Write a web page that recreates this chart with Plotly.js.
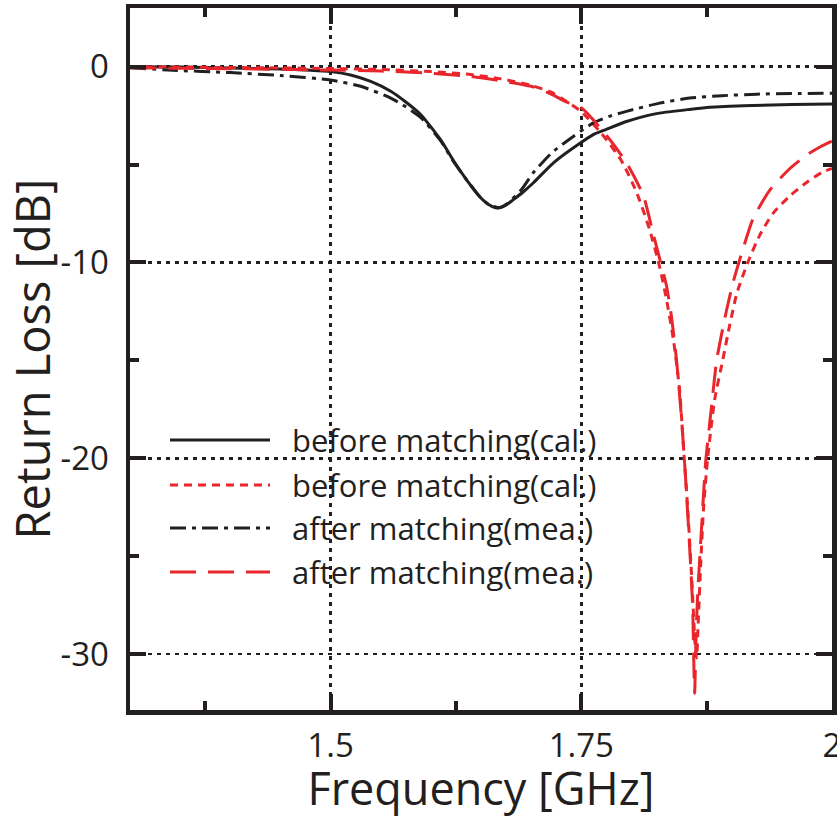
<!DOCTYPE html>
<html>
<head>
<meta charset="utf-8">
<script src="https://cdn.plot.ly/plotly-3.0.1.min.js"></script>
<style>html,body{margin:0;padding:0;background:#fff}#chart{width:837px;height:818px}</style>
</head>
<body>
<div id="chart"></div>
<script>
// ---- data (frequency in GHz, return loss in dB) ----
const freqCalBlack = [1.30,1.35,1.40,1.45,1.48,1.50,1.52,1.54,1.56,1.575,1.59,1.61,1.622,1.636,1.649,1.658,1.666,1.674,1.682,1.692,1.702,1.722,1.749,1.762,1.775,1.795,1.808,1.828,1.858,1.878,1.92,1.96,2.00];
const rlCalBlack   = [0.0,-0.02,-0.06,-0.12,-0.18,-0.25,-0.42,-0.75,-1.25,-1.8,-2.45,-3.75,-4.75,-5.8,-6.65,-7.05,-7.22,-7.1,-6.8,-6.4,-5.94,-4.92,-3.9,-3.47,-3.2,-2.8,-2.6,-2.37,-2.18,-2.07,-1.98,-1.93,-1.91];

const freqMeaBlack = [1.30,1.343,1.40,1.45,1.50,1.53,1.56,1.575,1.59,1.61,1.622,1.636,1.649,1.658,1.668,1.676,1.69,1.702,1.712,1.722,1.742,1.762,1.78,1.795,1.828,1.858,1.89,1.925,1.96,2.00];
const rlMeaBlack   = [-0.05,-0.18,-0.3,-0.45,-0.68,-1.0,-1.6,-2.05,-2.6,-3.8,-4.8,-5.8,-6.65,-7.05,-7.2,-7.0,-6.3,-5.42,-4.85,-4.33,-3.56,-2.87,-2.5,-2.28,-1.86,-1.6,-1.48,-1.4,-1.37,-1.35];

const freqCalRed = [1.30,1.35,1.40,1.45,1.50,1.55,1.60,1.64,1.67,1.70,1.72,1.73,1.75,1.77,1.79,1.805,1.818,1.828,1.835,1.842,1.848,1.852,1.856,1.860,1.8635,1.865,1.8665,1.869,1.872,1.876,1.883,1.891,1.898,1.905,1.916,1.928,1.941,1.958,1.975,1.99,2.00];
const rlCalRed   = [0.0,-0.02,-0.04,-0.06,-0.09,-0.14,-0.25,-0.4,-0.62,-0.95,-1.3,-1.6,-2.3,-3.4,-4.8,-6.4,-8.3,-10.2,-11.9,-14.0,-16.5,-19.5,-22.5,-26.0,-29.5,-30.2,-28.5,-25.5,-22.5,-20.0,-17.0,-15.0,-13.2,-11.6,-10.0,-8.6,-7.5,-6.6,-5.9,-5.4,-5.2];

const freqMeaRed = [1.30,1.35,1.40,1.45,1.50,1.55,1.60,1.64,1.67,1.70,1.72,1.735,1.75,1.775,1.795,1.812,1.822,1.835,1.84,1.845,1.850,1.854,1.858,1.861,1.863,1.8645,1.866,1.870,1.874,1.880,1.885,1.895,1.902,1.911,1.921,1.938,1.958,1.975,1.988,2.00];
const rlMeaRed   = [-0.05,-0.08,-0.1,-0.13,-0.17,-0.22,-0.33,-0.5,-0.72,-1.0,-1.4,-1.8,-2.1,-3.5,-4.9,-6.6,-8.6,-11.2,-12.8,-15.0,-18.0,-21.0,-24.5,-27.5,-32.0,-29.0,-27.0,-23.5,-20.2,-17.3,-15.0,-12.4,-10.9,-9.35,-7.8,-6.3,-5.2,-4.5,-4.1,-3.8];

const seriesNames = ['before matching(cal.)','before matching(cal.)','after matching(mea.)','after matching(mea.)'];
const xTickVals = [1.5, 1.75, 2];
const xTickText = ['1.5', '1.75', '2'];
const yTickVals = [0, -10, -20, -30];
const yTickText = ['0', '-10', '-20', '-30'];

// ---- styles ----
const BLACK = '#231f20', RED = '#e8262c';
const styles = [
  {color: BLACK, width: 3, dash: 'solid'},
  {color: RED, width: 3, dash: '8px,6px'},
  {color: BLACK, width: 3, dash: '16px,6px,4px,6px'},
  {color: RED, width: 3, dash: '26px,12px'}
];

const xs = [freqCalBlack, freqCalRed, freqMeaBlack, freqMeaRed];
const ys = [rlCalBlack, rlCalRed, rlMeaBlack, rlMeaRed];

const traces = xs.map((x, i) => ({
  x: x, y: ys[i], type: 'scatter', mode: 'lines', name: seriesNames[i],
  line: Object.assign({shape: 'spline', smoothing: 0.6}, styles[i]),
  showlegend: false, hoverinfo: 'skip'
}));

// plot area in pixels
const W = 837, H = 818, L = 130, R = 832, T = 8, B = 710;
const px2x = p => (p - L) / (R - L);
const px2y = p => (B - p) / (B - T);

// manual legend (long line samples)
const legendRows = [440, 485, 528, 572];
const shapes = [], annotations = [];
legendRows.forEach((py, i) => {
  shapes.push({type: 'line', xref: 'paper', yref: 'paper',
    x0: px2x(170), x1: px2x(270), y0: px2y(py), y1: px2y(py),
    line: {color: styles[i].color, width: 3, dash: styles[i].dash}});
  annotations.push({xref: 'paper', yref: 'paper', x: px2x(290), y: px2y(py),
    xanchor: 'left', yanchor: 'middle', showarrow: false, text: seriesNames[i],
    font: {family: 'Open Sans, sans-serif', size: 31, color: BLACK}});
});

const axisCommon = {
  showline: true, linecolor: BLACK, linewidth: 4.5, mirror: 'ticks',
  ticks: 'inside', ticklen: 16, tickwidth: 4, tickcolor: BLACK,
  showgrid: true, gridcolor: BLACK, gridwidth: 2.5, griddash: '4px,5px',
  zeroline: false, tickfont: {family: 'Open Sans, sans-serif', size: 33, color: BLACK},
  tickmode: 'array', ticklabeloverflow: 'allow'
};

const layout = {
  width: W, height: H,
  margin: {l: L, r: W - R, t: T, b: H - B, pad: 0},
  paper_bgcolor: '#fff', plot_bgcolor: '#fff',
  showlegend: false,
  xaxis: Object.assign({}, axisCommon, {
    range: [1.3, 2.0], tickvals: xTickVals, ticktext: xTickText,
    minor: {tickvals: [1.375, 1.625, 1.875], ticks: 'inside', ticklen: 9, tickwidth: 4, tickcolor: BLACK, showgrid: false},
    title: {text: 'Frequency [GHz]', font: {family: 'Open Sans, sans-serif', size: 45, color: BLACK}, standoff: 14},
    ticklabelstandoff: 3
  }),
  yaxis: Object.assign({}, axisCommon, {
    range: [-32.86, 3.0], tickvals: yTickVals, ticktext: yTickText,
    minor: {tickvals: [-5, -15, -25], ticks: 'inside', ticklen: 9, tickwidth: 4, tickcolor: BLACK, showgrid: false},
    title: {text: 'Return Loss [dB]', font: {family: 'Open Sans, sans-serif', size: 47, color: BLACK}, standoff: 4},
    ticklabelstandoff: 10
  }),
  shapes: shapes, annotations: annotations
};

Plotly.newPlot('chart', traces, layout, {displayModeBar: false, staticPlot: true});
</script>
</body>
</html>
